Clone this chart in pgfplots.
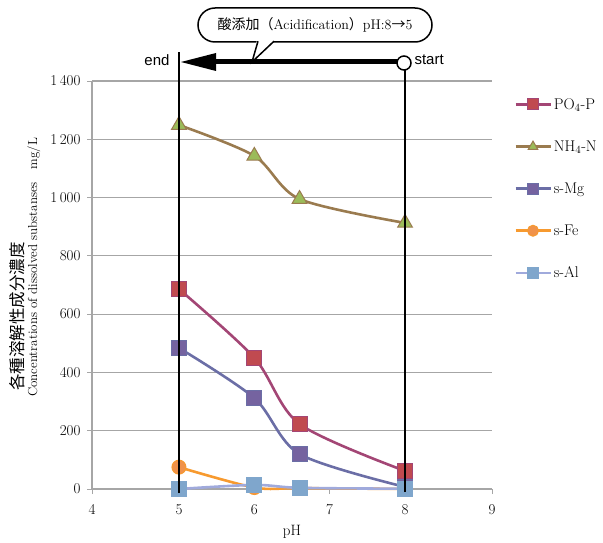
\documentclass[border=0pt]{standalone}
\usepackage{fontspec}
\usepackage{pgfplots}
\pgfplotsset{compat=1.18}
\newfontfamily\cjk{Noto Sans CJK JP}
\newfontfamily\sans{Liberation Sans}
\definecolor{poL}{HTML}{A34675}
\definecolor{poF}{HTML}{C04A50}
\definecolor{nhL}{HTML}{9A7B4F}
\definecolor{nhF}{HTML}{9BBB59}
\definecolor{mgL}{HTML}{6B6EA6}
\definecolor{mgF}{HTML}{7563A0}
\definecolor{feL}{HTML}{F79A2F}
\definecolor{feF}{HTML}{F0924A}
\definecolor{alL}{HTML}{A0AADC}
\definecolor{alF}{HTML}{7FA6CC}
\definecolor{gridc}{HTML}{A6A6A6}
\newcommand{\tf}{\fontsize{15}{17}\selectfont}
\begin{document}
\begin{tikzpicture}[x=1pt,y=1pt]
\path[use as bounding box] (0,0) rectangle (603,542);
\begin{axis}[
  at={(92pt,53pt)}, anchor=south west, scale only axis,
  width=400pt, height=408pt,
  xmin=3.846, xmax=9.154, ymin=0, ymax=1400,
  xtick={3.846,5,6,7,8,9.154}, xticklabels={{\tf 4},{\tf 5},{\tf 6},{\tf 7},{\tf 8},{\tf 9}},
  ytick={0,200,...,1400},
  yticklabels={{\tf 0},{\tf 200},{\tf 400},{\tf 600},{\tf 800},{\tf 1\,000},{\tf 1\,200},{\tf 1\,400}},
  axis x line=bottom, axis y line=left,
  axis line style={gridc, line width=1.2pt, -},
  tick style={gridc, line width=1pt},
  tick align=outside, major tick length=5pt,
  ymajorgrids, grid style={gridc, line width=1.2pt},
  yticklabel style={font=\tf, xshift=-3pt},
  xticklabel style={font=\tf, yshift=-7pt},
  xlabel={pH}, xlabel style={font=\tf, at={(0.5,0)}, anchor=center, yshift=-43pt},
  clip=false,
  legend style={at={(1,1)}, anchor=north west, xshift=19pt, yshift=-13pt, draw=none, fill=none,
    font=\fontsize{15.5}{17}\selectfont, row sep=26pt, cells={anchor=west}},
  legend image code/.code={\draw[#1, mark repeat=2, mark phase=2, mark size=5.5pt] plot coordinates {(0pt,0pt) (17.5pt,0pt) (35pt,0pt)};},
  every axis plot/.append style={line width=2.6pt, smooth, tension=0.5},
]
\addplot[poL, mark=square*, mark size=7.5pt, mark options={fill=poF, draw=poL, line width=1pt}] coordinates {(5,686) (6,450) (6.6,223) (8,62)};
\addlegendentry{PO$_4$-P}
\addplot[nhL, mark=triangle*, mark size=8.5pt, mark options={fill=nhF, draw=nhL, line width=1pt}] coordinates {(5,1249) (6,1143) (6.6,995) (8,913)};
\addlegendentry{NH$_4$-N}
\addplot[mgL, mark=square*, mark size=7.5pt, mark options={fill=mgF, draw=mgL, line width=1pt}] coordinates {(5,484) (6,312) (6.6,120) (8,7)};
\addlegendentry{s-Mg}
\addplot[feL, mark=*, mark size=7pt, mark options={fill=feF, draw=feL, line width=1pt}] coordinates {(5,75) (6,5) (6.6,3) (8,0)};
\addlegendentry{s-Fe}
\addplot[alL, mark=square*, mark size=7.5pt, mark options={fill=alF, draw=alF, line width=1pt}] coordinates {(5,0) (6,14) (6.6,4) (8,1)};
\addlegendentry{s-Al}
\end{axis}
% vertical marker lines
\draw[black, line width=1.3pt] (179,49) -- (179,490);
\draw[black, line width=1.3pt] (405,50) -- (405,472);
% arrow
\draw[black, line width=5pt] (212,480) -- (398,480);
\fill[black] (181,480) -- (216,489) -- (216,471) -- cycle;
\draw[black, line width=1.5pt, fill=white] (404,479) circle (7);
\node[anchor=east, font=\sans\fontsize{15}{17}\selectfont] at (173,482) {end};
\node[anchor=west, font=\sans\fontsize{15}{17}\selectfont] at (411,482) {start};
% callout
\draw[black, line width=1.5pt, fill=white, rounded corners=17pt] (198,500) rectangle (432,534);
\fill[white] (257,502) -- (275,502) -- (252,480) -- cycle;
\draw[black, line width=1.5pt] (258,500.8) -- (252,480) -- (274,500.8);
\node[font=\fontsize{14}{16}\selectfont] at (315,517) {{\cjk 酸添加（}Acidification{\cjk ）}pH:8{\cjk →}5};
% y label
\node[rotate=90, anchor=west, inner sep=0pt, font=\cjk\fontsize{16.5}{18}\selectfont] at (17,151) {各種溶解性成分濃度};
\node[rotate=90, anchor=west, inner sep=0pt, font=\fontsize{13}{15}\selectfont] at (34,145) {Concentrations of dissolved substanses\quad mg/L};
\end{tikzpicture}
\end{document}
